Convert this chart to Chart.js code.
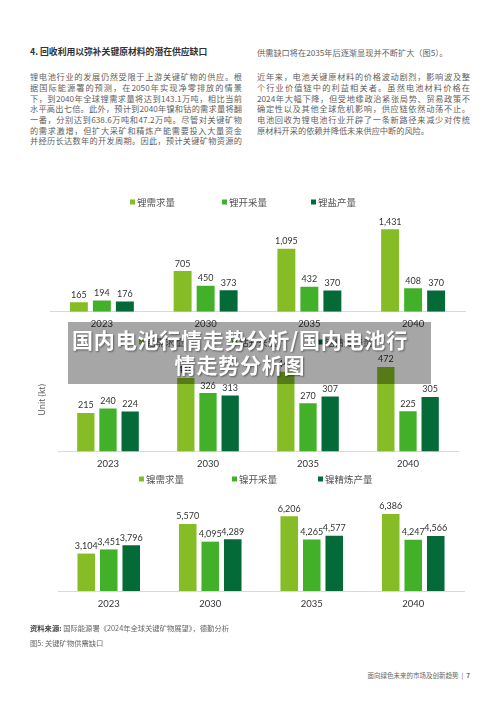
<!DOCTYPE html>
<html><head><meta charset="utf-8">
<script src="https://cdn.jsdelivr.net/npm/chart.js@4.4.1/dist/chart.umd.min.js"></script>
<style>
html,body{margin:0;padding:0;background:#fff;}
body{width:500px;height:707px;position:relative;overflow:hidden;font-family:"Noto Sans CJK SC","Noto Sans",sans-serif;}
.t{position:absolute;font-size:8.2px;line-height:10.7px;color:#5f5f5f;}
.t div{white-space:nowrap;height:10.7px;}
.t div.j{text-align:justify;text-align-last:justify;white-space:normal;}
.h{position:absolute;font-size:8.8px;line-height:10.7px;color:#333;font-weight:bold;white-space:nowrap;}
canvas{position:absolute;left:0;}
#ov{position:absolute;left:68px;top:322px;width:363px;height:62px;background:rgba(0,0,0,0.35);z-index:10;}
#ovt{position:absolute;left:40px;top:327px;width:400px;text-align:center;z-index:11;color:#fff;font-weight:bold;font-size:21px;line-height:25px;letter-spacing:0.8px;text-shadow:1px 1px 2px rgba(0,0,0,0.45);white-space:nowrap;}
.s{position:absolute;font-size:7.3px;line-height:9px;color:#666;white-space:nowrap;}
</style></head><body>

<div class="h" style="left:30px;top:47.3px;">4. 回收利用以弥补关键原材料的潜在供应缺口</div>
<div class="t" style="left:30px;top:71.3px;width:212px;">
<div class="j">锂电池行业的发展仍然受限于上游关键矿物的供应。根</div>
<div class="j">据国际能源署的预测，在2050年实现净零排放的情景</div>
<div class="j">下，到2040年全球锂需求量将达到143.1万吨，相比当前</div>
<div class="j">水平高出七倍。此外，预计到2040年镍和钴的需求量将翻</div>
<div class="j">一番，分别达到638.6万吨和47.2万吨。尽管对关键矿物</div>
<div class="j">的需求激增，但扩大采矿和精炼产能需要投入大量资金</div>
<div class="j">并经历长达数年的开发周期。因此，预计关键矿物资源的</div>
</div>
<div class="t" style="left:257px;top:47.3px;width:213px;"><div>供需缺口将在2035年后逐渐显现并不断扩大（图5）。</div></div>
<div class="t" style="left:257px;top:71.3px;width:213px;">
<div class="j">近年来，电池关键原材料的价格波动剧烈，影响波及整</div>
<div class="j">个行业价值链中的利益相关者。虽然电池材料价格在</div>
<div class="j">2024年大幅下降，但受地缘政治紧张局势、贸易政策不</div>
<div class="j">确定性以及其他全球危机影响，供应链依然动荡不止。</div>
<div class="j">电池回收为锂电池行业开辟了一条新路径来减少对传统</div>
<div>原材料开采的依赖并降低未来供应中断的风险。</div>
</div>

<canvas id="c1" width="500" height="145" style="top:190px;"></canvas>
<canvas id="c2" width="500" height="145" style="top:330px;"></canvas>
<canvas id="c3" width="500" height="145" style="top:470px;"></canvas>

<div id="ov"></div>
<div id="ovt">国内电池行情走势分析/国内电池行<br>情走势分析图</div>

<div class="s" style="left:30px;top:623.5px;"><b style="color:#444">资料来源:</b> 国际能源署《2024年全球关键矿物展望》，德勤分析</div>
<div class="s" style="left:30px;top:638.5px;">图5: 关键矿物供需缺口</div>
<div class="s" style="right:30px;top:671px;font-size:6.5px;">面向绿色未来的市场及创新趋势 &nbsp;|&nbsp; <b>7</b></div>

<script>
const years = ['2023', '2030', '2035', '2040'];

const liDemand = [165, 705, 1095, 1431];
const liMining = [194, 450, 432, 408];
const liSalt   = [176, 373, 370, 370];
const liNames  = ['锂需求量', '锂开采量', '锂盐产量'];

const coDemand  = [215, 410, 446, 472];
const coMining  = [240, 326, 270, 225];
const coRefined = [224, 313, 307, 305];
const coNames   = ['钴需求量', '钴开采量', '钴精炼产量'];

const niDemand  = [3104, 5570, 6206, 6386];
const niMining  = [3451, 4095, 4265, 4247];
const niRefined = [3796, 4289, 4577, 4566];
const niNames   = ['镍需求量', '镍开采量', '镍精炼产量'];

const colors = ['#86BC25', '#43B02A', '#046A38'];

const valueLabels = {
  id: 'valueLabels',
  afterDatasetsDraw(chart) {
    const ctx = chart.ctx;
    ctx.save();
    ctx.font = '9px Lato';
    ctx.fillStyle = '#333';
    ctx.textAlign = 'center';
    ctx.textBaseline = 'bottom';
    chart.data.datasets.forEach((ds, i) => {
      chart.getDatasetMeta(i).data.forEach((bar, j) => {
        ctx.fillText(ds.data[j].toLocaleString('en-US'), bar.x, bar.y - 3);
      });
    });
    ctx.restore();
  }
};

const sideLegend = {
  id: 'sideLegend',
  afterDraw(chart, args, opts) {
    const ctx = chart.ctx;
    ctx.save();
    ctx.font = '9.5px "Noto Sans CJK SC"';
    ctx.textBaseline = 'middle';
    ctx.textAlign = 'left';
    chart.data.datasets.forEach((ds, i) => {
      const x = opts.x[i], y = opts.y;
      ctx.fillStyle = ds.backgroundColor;
      ctx.fillRect(x, y - 2.5, 5, 5);
      ctx.fillStyle = '#555';
      ctx.fillText(ds.label, x + 7, y);
    });
    ctx.restore();
  }
};

function makeChart(id, series, names, o) {
  return new Chart(document.getElementById(id), {
    type: 'bar',
    data: {
      labels: years,
      datasets: series.map((d, i) => ({
        label: names[i], data: d, backgroundColor: colors[i],
        barPercentage: 0.78, categoryPercentage: 0.665
      }))
    },
    options: {
      responsive: false, animation: false, devicePixelRatio: 1,
      layout: { padding: { left: o.left, right: o.right, top: o.top, bottom: o.bottom } },
      plugins: {
        legend: { display: false }, tooltip: { enabled: false },
        sideLegend: { x: o.legendX, y: o.legendY }
      },
      scales: {
        x: {
          grid: { display: false, drawTicks: false },
          border: { display: true, color: '#d9d9d9' },
          ticks: { padding: 7, font: { family: 'Lato', size: 9.5 }, color: '#333' },
          afterFit(s) { s.height = 20; }
        },
        y: {
          min: 0, max: o.max, display: !!o.title,
          grid: { display: false, drawTicks: false },
          border: { display: false },
          ticks: { display: false },
          title: { display: !!o.title, text: o.title || '', font: { family: 'Open Sans', size: 8.5 }, color: '#555', padding: { top: 0, bottom: 0 } },
          afterFit(s) { s.width = o.yw || 0; }
        }
      }
    },
    plugins: [valueLabels, sideLegend]
  });
}

makeChart('c1', [liDemand, liMining, liSalt], liNames,
  { left: 50, right: 35, top: 25, bottom: 3.3, max: 1679, legendX: [130, 222, 311], legendY: 12 });
makeChart('c2', [coDemand, coMining, coRefined], coNames,
  { left: 37, right: 42, top: 18, bottom: 3.5, max: 578, yw: 21, title: 'Unit (kt)', legendX: [139, 232, 318], legendY: 12 });
makeChart('c3', [niDemand, niMining, niRefined], niNames,
  { left: 58, right: 36, top: 25, bottom: 4, max: 7967, legendX: [139, 232, 318], legendY: 9 });
</script>
</body></html>
